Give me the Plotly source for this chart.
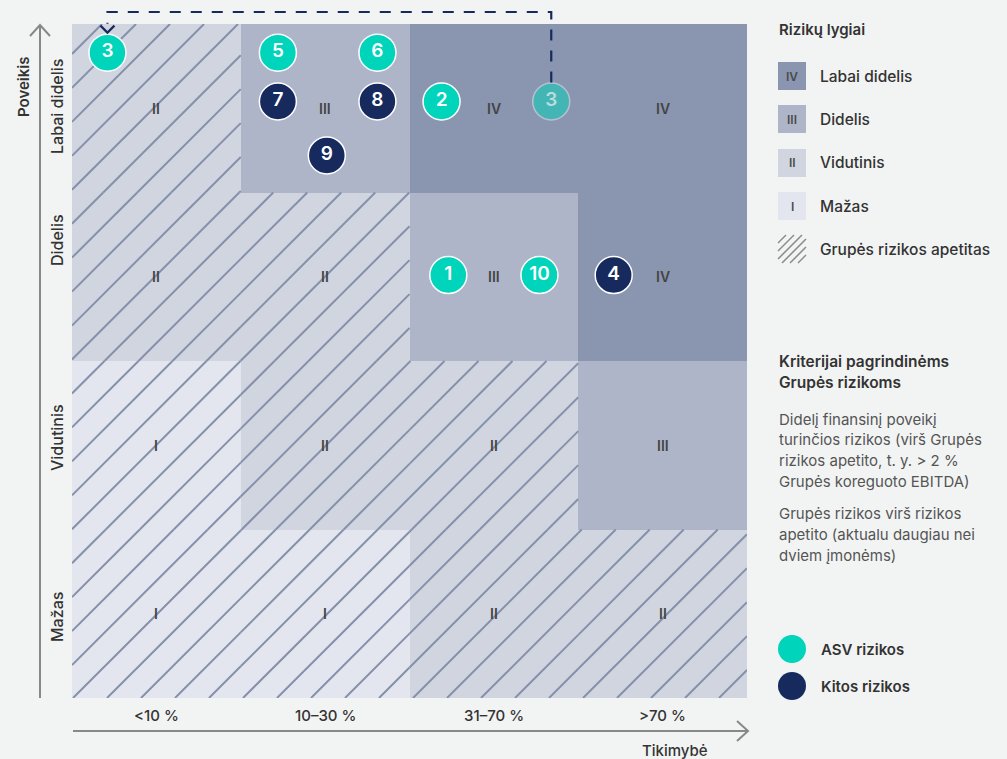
import plotly.graph_objects as go

# --- data -------------------------------------------------------------
columns = ["<10 %", "10–30 %", "31–70 %", ">70 %"]          # Tikimybė
rows = ["Mažas", "Vidutinis", "Didelis", "Labai didelis"]    # Poveikis (bottom -> top)

# risk level of each cell, rows bottom -> top
levels = [
    ["I", "I", "II", "II"],
    ["I", "II", "II", "III"],
    ["II", "II", "III", "IV"],
    ["II", "III", "IV", "IV"],
]
# 1 = inside group risk appetite (hatched)
appetite = [
    [1, 1, 1, 1],
    [1, 1, 1, 0],
    [1, 1, 0, 0],
    [1, 0, 0, 0],
]

risk_ids = ["3", "5", "6", "7", "8", "9", "2", "1", "10", "4"]
risk_group = ["ASV", "ASV", "ASV", "Kitos", "Kitos", "Kitos", "ASV", "ASV", "ASV", "Kitos"]
risk_x = [0.21, 1.22, 1.81, 1.22, 1.81, 1.51, 2.19, 2.23, 2.77, 3.21]
risk_y = [3.83, 3.83, 3.83, 3.54, 3.54, 3.22, 3.54, 2.51, 2.51, 2.51]

# previous position of risk 3
ghost_id = "3"
ghost_x = 2.84
ghost_y = 3.54

level_names = ["Labai didelis", "Didelis", "Vidutinis", "Mažas"]
level_codes = ["IV", "III", "II", "I"]

criteria_title = ["Kriterijai pagrindinėms", "Grupės rizikoms"]
criteria_text = [
    ["Didelį finansinį poveikį", "turinčios rizikos (virš Grupės",
     "rizikos apetito, t. y. > 2 %", "Grupės koreguoto EBITDA)"],
    ["Grupės rizikos virš rizikos", "apetito (aktualu daugiau nei", "dviem įmonėms)"],
]

# --- styles -----------------------------------------------------------
BG = "#f2f4f3"
LEVEL_COLOURS = {"IV": "#8a96b0", "III": "#aeb5c8", "II": "#d0d5e0", "I": "#e3e6ee"}
HATCH = "#8590ab"
GROUP_COLOURS = {"ASV": "#00d4bb", "Kitos": "#172a5e"}
NAVY = "#172a5e"
AXIS = "#888888"
DARK = "#333333"
FONT = "Inter"

W, H = 1007, 759
L, R, T, B = 72, 260, 24, 61
PW, PH = W - L - R, H - T - B


def X(px):
    return (px - L) / PW


def Y(py):
    return (H - B - py) / PH


def label(px, py, text, size=15, weight=500, color=DARK, anchor="center", angle=0):
    return dict(x=X(px), y=Y(py), xref="paper", yref="paper", text=text,
                xanchor=anchor, yanchor="middle", textangle=angle, showarrow=False,
                font=dict(family=FONT, size=size, color=color, weight=weight))


# --- cells ------------------------------------------------------------
cx, cb, ccol = [], [], []
for r in range(len(rows)):
    for c in range(len(columns)):
        cx.append(c + 0.5)
        cb.append(r)
        ccol.append(LEVEL_COLOURS[levels[r][c]])

fig = go.Figure()
fig.add_trace(go.Bar(
    x=cx, y=[1] * len(cx), base=cb, width=1,
    marker=dict(color=ccol, line=dict(width=0)),
    hoverinfo="skip", showlegend=False,
))

# hatching for the risk-appetite cells: 45° lines, 34 px apart horizontally
pitch = 34 / (PW / 4)
k_start = 4 - 30 / (PW / 4)
hx, hy = [], []
for r in range(len(rows)):
    for c in range(len(columns)):
        if not appetite[r][c]:
            continue
        k = k_start
        while k > -4:
            x0, x1 = max(c, r - k), min(c + 1, r + 1 - k)
            if x1 > x0:
                hx += [x0, x1, None]
                hy += [x0 + k, x1 + k, None]
            k -= pitch
fig.add_trace(go.Scatter(
    x=hx, y=hy, mode="lines", line=dict(color=HATCH, width=2),
    hoverinfo="skip", showlegend=False,
))

ann = []
# roman numerals in cells
for r in range(len(rows)):
    for c in range(len(columns)):
        ann.append(dict(x=c + 0.5, y=r + 0.5, text=levels[r][c], showarrow=False,
                        xanchor="center", yanchor="middle",
                        font=dict(family=FONT, size=14, color="#444444", weight=600)))

# ghost marker (previous position)
fig.add_trace(go.Scatter(
    x=[ghost_x], y=[ghost_y], mode="markers+text", text=[ghost_id],
    marker=dict(size=37, color=GROUP_COLOURS["ASV"], opacity=0.5,
                line=dict(color="#e6ebef", width=1.5)),
    textfont=dict(family=FONT, size=19, color="#b9dedd", weight=600),
    hoverinfo="skip", showlegend=False,
))

# risk markers
fig.add_trace(go.Scatter(
    x=risk_x, y=risk_y, mode="markers+text", text=risk_ids,
    marker=dict(size=37, color=[GROUP_COLOURS[g] for g in risk_group],
                line=dict(color="white", width=1.5)),
    textfont=dict(family=FONT, size=19, color="white", weight=600),
    hoverinfo="skip", showlegend=False,
))

shapes = []

# dashed arrow from ghost position to current position of risk 3
src = risk_ids.index(ghost_id)
gx, gtop = ghost_x / 4, ghost_y / 4 + 19 / PH
tx, ttop = risk_x[src] / 4, Y(12)
tip = risk_y[src] / 4 + 20 / PH
shapes.append(dict(
    type="path", xref="paper", yref="paper",
    path=f"M{gx},{gtop} L{gx},{ttop} L{tx},{ttop} L{tx},{tip + 9 / PH}",
    line=dict(color=NAVY, width=2.2, dash="11px,10px"), layer="above",
))
shapes.append(dict(
    type="path", xref="paper", yref="paper",
    path=f"M{tx - 7 / PW},{tip + 7 / PH} L{tx},{tip} L{tx + 7 / PW},{tip + 7 / PH}",
    line=dict(color=NAVY, width=2.2), layer="above",
))

# axis arrows
shapes.append(dict(type="line", xref="paper", yref="paper",
                   x0=X(40), x1=X(40), y0=Y(698), y1=Y(25), line=dict(color=AXIS, width=2)))
shapes.append(dict(type="path", xref="paper", yref="paper",
                   path=f"M{X(30)},{Y(36)} L{X(40)},{Y(25)} L{X(50)},{Y(36)}",
                   line=dict(color=AXIS, width=2)))
shapes.append(dict(type="line", xref="paper", yref="paper",
                   x0=X(73), x1=X(748), y0=Y(731), y1=Y(731), line=dict(color=AXIS, width=2)))
shapes.append(dict(type="path", xref="paper", yref="paper",
                   path=f"M{X(737)},{Y(721)} L{X(748)},{Y(731)} L{X(737)},{Y(741)}",
                   line=dict(color=AXIS, width=2)))

# column labels
for c, lab in enumerate(columns):
    ann.append(dict(x=(c + 0.5) / 4, y=Y(715), xref="paper", yref="paper", text=lab,
                    xanchor="center", yanchor="middle", showarrow=False,
                    font=dict(family=FONT, size=15, color=DARK, weight=500)))
ann.append(label(675, 750, "Tikimybė", size=15))

# row labels
row_label_y = [617, 438, 240, 107]
for lab, py in zip(rows, row_label_y):
    ann.append(label(57, py, lab, size=16, angle=-90))
ann.append(label(24, 87, "Poveikis", size=15, weight=600, angle=-90))

# --- right side key -----------------------------------------------------
ann.append(label(777, 30, "Rizikų lygiai", weight=600, anchor="left"))
sw_y = [76, 119, 163, 206]
for name, code, py in zip(level_names, level_codes, sw_y):
    shapes.append(dict(type="rect", xref="paper", yref="paper",
                       x0=X(778), x1=X(806), y0=Y(py + 14), y1=Y(py - 14),
                       fillcolor=LEVEL_COLOURS[code], line=dict(width=0), layer="below"))
    ann.append(label(792, py, code, size=12, weight=600, color="#4a4a4a"))
    ann.append(label(818, py, name, size=15.5, anchor="left"))

# hatch swatch
hx0, hy0, s, step = 778, 263, 28, 8
c0 = -s
while c0 < s:
    u0, u1 = max(0, c0), min(s, s + c0)
    if u1 > u0:
        shapes.append(dict(type="line", xref="paper", yref="paper",
                           x0=X(hx0 + u0), y0=Y(hy0 - (u0 - c0)),
                           x1=X(hx0 + u1), y1=Y(hy0 - (u1 - c0)),
                           line=dict(color="#8a8a8a", width=1.5)))
    c0 += step
ann.append(label(818, 249, "Grupės rizikos apetitas", size=15.5, anchor="left"))

# criteria text
for i, line in enumerate(criteria_title):
    ann.append(label(777, 361 + i * 21, line, size=15.5, weight=600, anchor="left"))
py = 419
for block in criteria_text:
    for line in block:
        ann.append(label(777, py, line, weight=400, color="#555555", anchor="left"))
        py += 20.7
    py += 12

# group key
for g, lab, py in zip(["ASV", "Kitos"], ["ASV rizikos", "Kitos rizikos"], [649, 686]):
    shapes.append(dict(type="circle", xref="paper", yref="paper",
                       x0=X(778), x1=X(806), y0=Y(py + 14), y1=Y(py - 14),
                       fillcolor=GROUP_COLOURS[g], line=dict(width=0)))
    ann.append(label(819, py, lab, weight=600, anchor="left"))

fig.update_layout(
    width=W, height=H,
    margin=dict(l=L, r=R, t=T, b=B),
    paper_bgcolor=BG, plot_bgcolor=BG,
    barmode="overlay", bargap=0,
    xaxis=dict(range=[0, 4], visible=False, fixedrange=True),
    yaxis=dict(range=[0, 4], visible=False, fixedrange=True),
    shapes=shapes, annotations=ann,
    font=dict(family=FONT, color=DARK),
    showlegend=False,
)

fig.write_html("out.html", config={"displayModeBar": False},
               post_script="document.body.style.margin='0';")
